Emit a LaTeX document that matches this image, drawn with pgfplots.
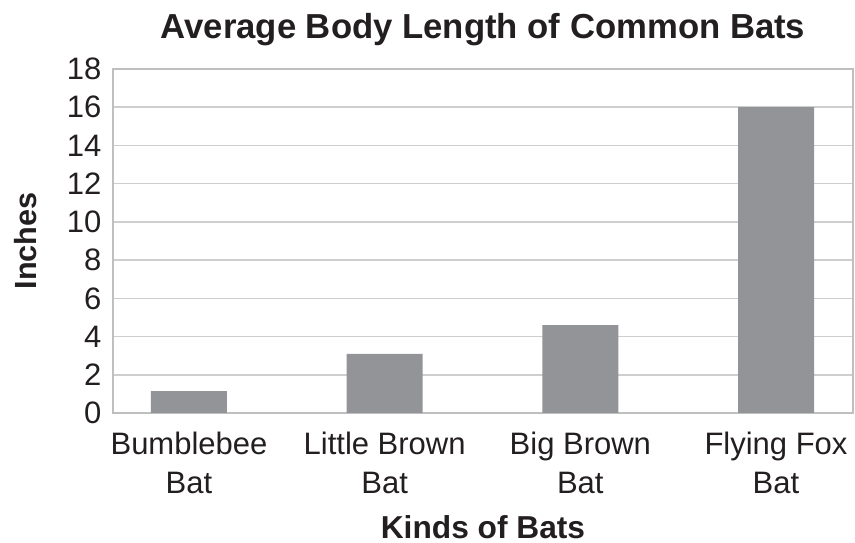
\documentclass[border=0pt]{standalone}
\usepackage{fontspec}
\setmainfont{Liberation Sans}
\usepackage{pgfplots}
\pgfplotsset{compat=1.18}
\definecolor{barg}{RGB}{147,148,151}
\definecolor{gridg}{RGB}{206,206,206}
\definecolor{frameg}{RGB}{191,191,191}
\definecolor{txt}{RGB}{35,31,32}

\begin{document}
\begin{tikzpicture}
\begin{axis}[
    scale only axis,
    width=740pt, height=344pt,
    xmin=-0.3884, xmax=3.3935,
    ymin=0, ymax=18,
    xtick={0,1,2,3},
    xticklabels={{Bumblebee\\Bat},{Little Brown\\Bat},{Big Brown\\Bat},{Flying Fox\\Bat}},
    ytick={0,2,...,18},
    /pgf/number format/assume math mode=true,
    xticklabel style={align=center, text=txt, font=\fontsize{31}{39}\selectfont, yshift=-16pt},
    yticklabel style={text=txt, font=\fontsize{31}{36}\selectfont, xshift=-8pt},
    major tick length=0pt,
    ymajorgrids,
    grid style={gridg, line width=1.5pt},
    axis line style={frameg, line width=2.5pt},
    title={Average Body Length of Common Bats},
    title style={text=txt, font=\bfseries\fontsize{34.7}{40}\selectfont,
        at={(0.5,1)}, anchor=base, yshift=24pt},
    xlabel={Kinds of Bats},
    xlabel style={text=txt, font=\bfseries\fontsize{31.7}{38}\selectfont,
        at={(axis description cs:0.5,0)}, anchor=base, yshift=-125pt},
]
% average body length in inches
\addplot[ybar, bar width=76pt, fill=barg, draw=none] coordinates {
    (0, 1.15) (1, 3.1) (2, 4.6) (3, 16)
};
\end{axis}
\node[rotate=90, anchor=base, text=txt, font=\bfseries\fontsize{30.6}{36}\selectfont]
    at ([xshift=-76pt]current axis.west) {Inches};
% canvas of the reference picture
\path (current axis.south west) ++(-113pt,-130pt) rectangle ++(855pt,543pt);
\end{tikzpicture}
\end{document}
